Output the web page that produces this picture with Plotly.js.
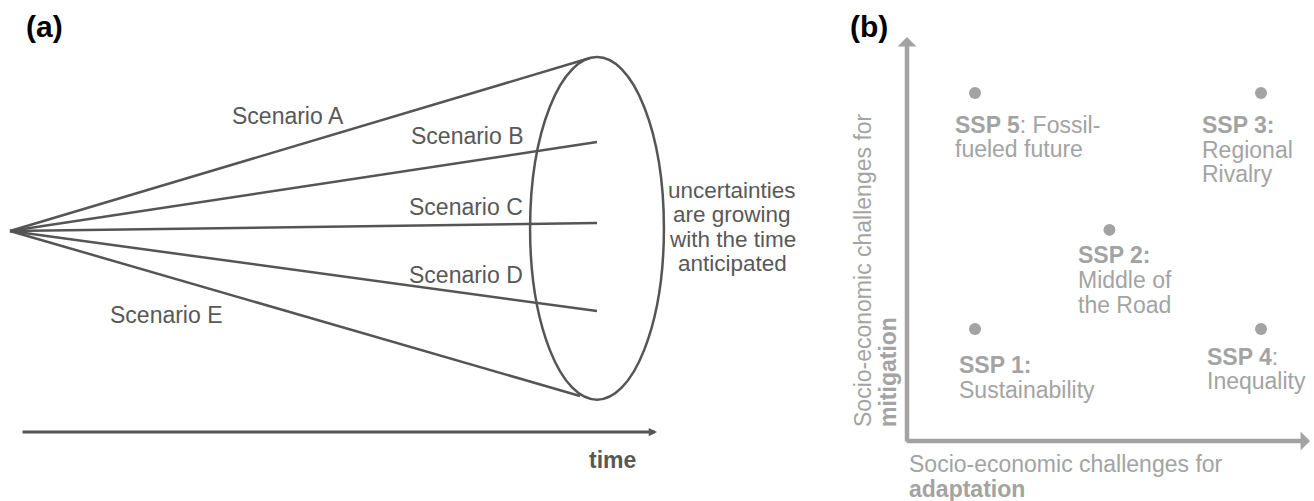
<!DOCTYPE html>
<html>
<head>
<meta charset="utf-8">
<script src="https://cdn.plot.ly/plotly-3.0.1.min.js"></script>
<style>html,body{margin:0;padding:0;background:#fff;}#chart{width:1314px;height:501px;}</style>
</head>
<body>
<div id="chart"></div>
<script>
// ---------- DATA ----------
// Panel (a): scenario cone (time 0 = today, time 1 = horizon)
const scenarios = ['Scenario A', 'Scenario B', 'Scenario C', 'Scenario D', 'Scenario E'];
const scenarioEndTime = [0.988, 1, 1, 1, 0.971];
const scenarioEndValue = [0.994, 0.511, 0.046, -0.46, -0.948];
const coneHorizon = [1];          // time of the uncertainty ellipse
const coneSpread = [-0.97, 1.0];  // lowest / highest outcome at horizon
const coneDepth = [0.114];        // half width of the ellipse in time units
const uncertaintyText = ['uncertainties', 'are growing', 'with the time', 'anticipated'];
const timeLabel = ['time'];

// Panel (b): SSP matrix
const sspNames = ['SSP 1', 'SSP 2', 'SSP 3', 'SSP 4', 'SSP 5'];
const sspAdaptation = [1, 1.94, 3, 3, 1];   // challenges for adaptation
const sspMitigation = [1, 1.84, 3, 1, 3];   // challenges for mitigation
const sspLabelLines = [
  ['<b>SSP 1:</b>', 'Sustainability'],
  ['<b>SSP 2:</b>', 'Middle of', 'the Road'],
  ['<b>SSP 3:</b>', 'Regional', 'Rivalry'],
  ['<b>SSP 4</b>:', 'Inequality'],
  ['<b>SSP 5</b>: Fossil-', 'fueled future']
];
const xTitleLines = ['Socio-economic challenges for', '<b>adaptation</b>'];
const yTitleLines = ['Socio-economic challenges for', '<b>mitigation</b>'];
const panelTags = ['<b>(a)</b>', '<b>(b)</b>'];

// ---------- LAYOUT HELPERS ----------
const W = 1314, H = 501;
const FONT = 'Liberation Sans, Arial, Helvetica, sans-serif';
const FS = 23;
const DARK = '#555555', DARKTXT = '#585858', GREY = '#a3a3a3';
function lin(p0, v0, p1, v1, size) {
  const s = (p1 - p0) / (v1 - v0);
  return [v0 + (0 - p0) / s, v0 + (size - p0) / s];
}
const xaRange = lin(10, 0, 597, 1, W);
const yaRange = lin(231, 0, 57, 1, H).reverse();
const xbRange = lin(975, 1, 1261, 3, W);
const ybRange = lin(329, 1, 93, 3, H).reverse();
const px = p => p / W;
const py = p => 1 - p / H;

const traces = [];
scenarios.forEach((s, i) => {
  traces.push({
    type: 'scatter', mode: 'lines', xaxis: 'x', yaxis: 'y', name: s,
    x: [0, scenarioEndTime[i]], y: [0, scenarioEndValue[i]],
    line: {color: DARK, width: 2.5}, hoverinfo: 'skip', cliponaxis: false
  });
});
traces.push({
  type: 'scatter', mode: 'markers', xaxis: 'x2', yaxis: 'y2', name: 'SSP',
  x: sspAdaptation, y: sspMitigation, text: sspNames,
  marker: {size: 12, color: GREY}, hoverinfo: 'text'
});

const annotations = [];
function txt(text, x, y, opts) {
  annotations.push(Object.assign({
    text: text, xref: 'paper', yref: 'paper', x: px(x), y: py(y),
    showarrow: false, xanchor: 'center', yanchor: 'middle', borderpad: 0,
    font: {family: FONT, size: FS, color: DARKTXT}
  }, opts || {}));
}
// panel tags
txt(panelTags[0], 44, 27, {font: {family: FONT, size: 30, color: '#000'}});
txt(panelTags[1], 869, 27, {font: {family: FONT, size: 30, color: '#000'}});
// scenario labels
const scenarioLabelPos = [[288, 116], [467, 136], [466, 207], [466, 275], [166, 315]];
scenarios.forEach((s, i) => txt(s, scenarioLabelPos[i][0], scenarioLabelPos[i][1]));
// uncertainty text
uncertaintyText.forEach((t, i) => txt(t, 732, 190 + i * 24.6, {font: {family: FONT, size: 22.5, color: DARKTXT}}));
// time axis
annotations.push({
  text: '', xref: 'paper', yref: 'paper', x: px(657), y: py(432),
  ax: -(657 - 21), ay: 0, showarrow: true, arrowhead: 2, arrowsize: 0.55,
  arrowwidth: 3, arrowcolor: DARK
});
txt('<b>' + timeLabel[0] + '</b>', 612, 460);

// panel (b) axes arrows
annotations.push({
  text: '', xref: 'paper', yref: 'paper', x: px(1310), y: py(441),
  ax: -(1310 - 905), ay: 0, showarrow: true, arrowhead: 1, arrowsize: 0.7,
  arrowwidth: 4.5, arrowcolor: GREY
});
annotations.push({
  text: '', xref: 'paper', yref: 'paper', x: px(907), y: py(37),
  ax: 0, ay: (443 - 37), showarrow: true, arrowhead: 1, arrowsize: 0.7,
  arrowwidth: 4.5, arrowcolor: GREY
});
// SSP labels
const sspLabelPos = [[958, 365, 24.5], [1077, 255, 25], [1201, 125, 24.5], [1206, 357, 23.5], [954, 125, 24]];
sspLabelLines.forEach((lines, i) => {
  lines.forEach((t, j) => txt(t, sspLabelPos[i][0], sspLabelPos[i][1] + j * sspLabelPos[i][2],
    {xanchor: 'left', align: 'left', font: {family: FONT, size: FS, color: GREY}}));
});
// axis titles
xTitleLines.forEach((t, j) => txt(t, 908, 464 + j * 25,
  {xanchor: 'left', align: 'left', font: {family: FONT, size: FS, color: GREY}}));
yTitleLines.forEach((t, j) => txt(t, 863 + j * 25, 428,
  {xanchor: 'center', yanchor: 'bottom', textangle: -90, font: {family: FONT, size: FS, color: GREY}}));

const shapes = [{
  type: 'circle', xref: 'x', yref: 'y',
  x0: coneHorizon[0] - coneDepth[0], x1: coneHorizon[0] + coneDepth[0],
  y0: coneSpread[0], y1: coneSpread[1],
  line: {color: DARK, width: 2.5}, fillcolor: 'rgba(0,0,0,0)'
}];

const ax = r => ({domain: [0, 1], range: r, visible: false, fixedrange: true, showgrid: false, zeroline: false});
const layout = {
  width: W, height: H, autosize: false,
  margin: {l: 0, r: 0, t: 0, b: 0, pad: 0},
  paper_bgcolor: '#fff', plot_bgcolor: 'rgba(0,0,0,0)', showlegend: false,
  xaxis: Object.assign(ax(xaRange), {anchor: 'y'}),
  yaxis: Object.assign(ax(yaRange), {anchor: 'x'}),
  xaxis2: Object.assign(ax(xbRange), {anchor: 'y2'}),
  yaxis2: Object.assign(ax(ybRange), {anchor: 'x2'}),
  annotations: annotations, shapes: shapes
};
Plotly.newPlot('chart', traces, layout, {staticPlot: true, displayModeBar: false});
</script>
</body>
</html>
